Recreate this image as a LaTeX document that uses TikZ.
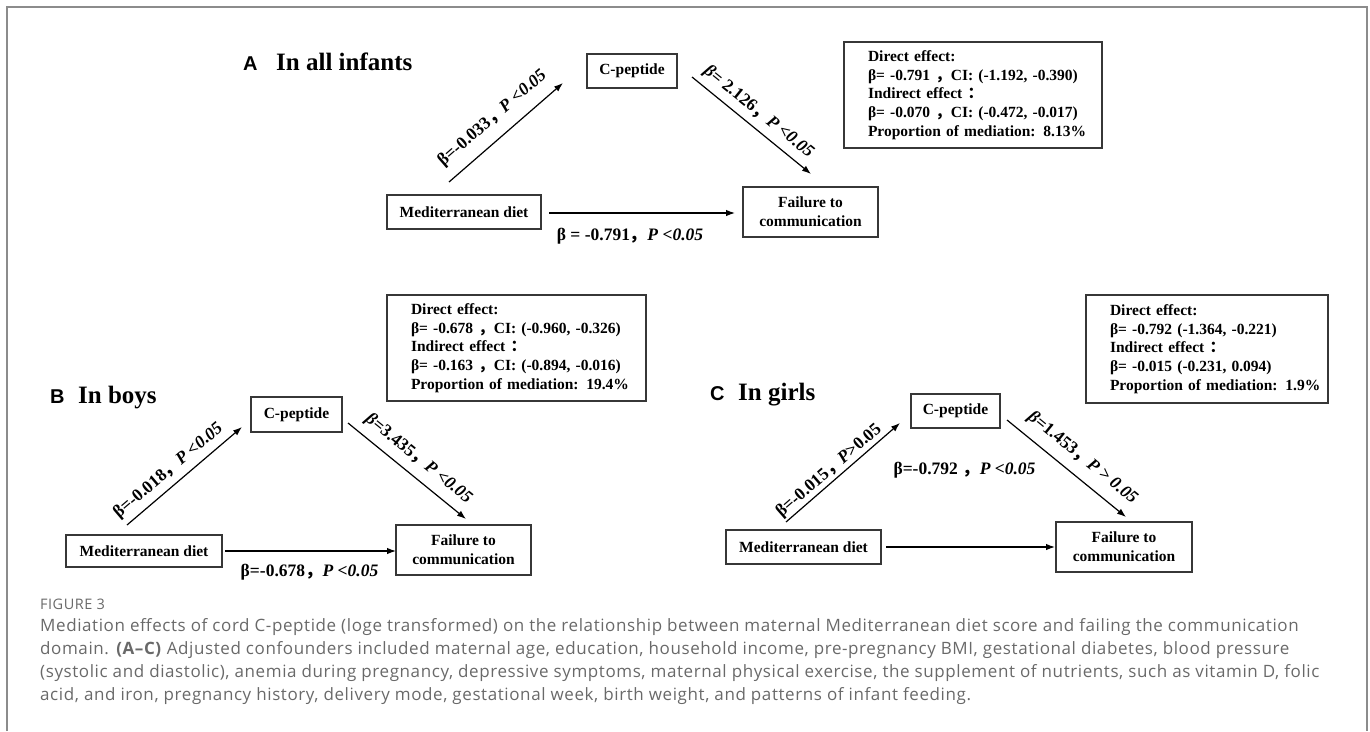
\documentclass[tikz,border=0pt]{standalone}
\usepackage{fontspec}
\setmainfont{Liberation Serif}
\newfontfamily\cjk{Noto Sans CJK SC}
\newfontfamily\capfont[LetterSpace=3.5]{Open Sans}
\newfontfamily\lettfont{Liberation Sans}
\usetikzlibrary{arrows.meta}
\definecolor{capgray}{RGB}{105,105,105}
\definecolor{framegray}{RGB}{140,140,140}
\definecolor{boxgray}{RGB}{55,55,55}
\newcommand{\fwc}{{\cjk ，}}
\newcommand{\fwcolon}{{\cjk ：}}
\begin{document}
\begin{tikzpicture}[x=1pt,y=-1pt,
 box/.style={draw=boxgray, line width=1.3pt, font=\fontsize{15.5}{19}\selectfont\bfseries, inner sep=0pt, align=center},
 info/.style={draw=boxgray, line width=1.3pt, font=\fontsize{15.5}{18.75}\selectfont\bfseries, align=left, inner xsep=24pt, inner ysep=0pt, execute at begin node={\hfuzz=200pt\hbadness=10000}},
 arr/.style={-{Latex[length=9pt,width=6.5pt]}, line width=1.2pt},
 lbl/.style={font=\fontsize{17.5}{20}\selectfont\bfseries, inner sep=0pt},
 ttl/.style={font=\fontsize{25}{30}\selectfont\bfseries, anchor=base west, inner sep=0pt},
 letter/.style={font=\fontsize{20}{24}\selectfont\lettfont\bfseries, anchor=base west, inner sep=0pt},
 captext/.style={font=\fontsize{17}{19}\selectfont\capfont, text=capgray, anchor=base west, inner sep=0pt}
]
\useasboundingbox (0,0) rectangle (1370,731);
\draw[framegray, line width=2pt] (7,731) -- (7,7) -- (1367,7) -- (1367,731);

% ---------------- Panel A ----------------
\node[letter] (letA) at (243,70) {A};
\node[ttl] (ttlA) at (276,70) {In all infants};
\node[box, minimum width=154, minimum height=34] (medA) at (464,212) {Mediterranean diet};
\node[box, minimum width=90, minimum height=34] (cpA) at (632,71) {C-peptide};
\node[box, minimum width=135, minimum height=50] (failA) at (810.5,212) {Failure to\\communication};
\node[info, minimum width=258, minimum height=106, text width=210] (infoA) at (973,95)
 {\mbox{Direct effect:}\\\mbox{β= -0.791 \fwc CI: (-1.192, -0.390)}\\\mbox{Indirect effect \fwcolon}\\\mbox{β= -0.070 \fwc CI: (-0.472, -0.017)}\\\mbox{Proportion of mediation: 8.13\%}};
\coordinate (a1s) at (449,182); \coordinate (a1e) at (563,83);
\coordinate (a2s) at (692,77);  \coordinate (a2e) at (811,174);
\coordinate (a3s) at (549,213); \coordinate (a3e) at (735,213);
\draw[arr] (a1s) -- (a1e);
\draw[arr] (a2s) -- (a2e);
\draw[arr] (a3s) -- (a3e);
\node[lbl, rotate=41] (lA1) at (492.5,118.5) {β=-0.033\fwc\textit{P <0.05}};
\node[lbl, rotate=-39] (lA2) at (758.5,112) {\textit{β}= 2.126\fwc\textit{P <0.05}};
\node[lbl] (lA3) at (630,236) {β = -0.791\fwc\textit{P <0.05}};

% ---------------- Panel B ----------------
\node[letter] (letB) at (50,403) {B};
\node[ttl] (ttlB) at (78,403) {In boys};
\node[box, minimum width=156, minimum height=32] (medB) at (144,551) {Mediterranean diet};
\node[box, minimum width=91, minimum height=35] (cpB) at (296.5,414.5) {C-peptide};
\node[box, minimum width=135, minimum height=50] (failB) at (463.5,550) {Failure to\\communication};
\node[info, minimum width=259, minimum height=106, text width=211] (infoB) at (516.5,348)
 {\mbox{Direct effect:}\\\mbox{β= -0.678 \fwc CI: (-0.960, -0.326)}\\\mbox{Indirect effect \fwcolon}\\\mbox{β= -0.163 \fwc CI: (-0.894, -0.016)}\\\mbox{Proportion of mediation: 19.4\%}};
\coordinate (b1s) at (127,525); \coordinate (b1e) at (242,427);
\coordinate (b2s) at (348,423); \coordinate (b2e) at (466,519);
\coordinate (b3s) at (225,551); \coordinate (b3e) at (396,551);
\draw[arr] (b1s) -- (b1e);
\draw[arr] (b2s) -- (b2e);
\draw[arr] (b3s) -- (b3e);
\node[lbl, rotate=40.4] (lB1) at (168.5,471) {β=-0.018\fwc\textit{P <0.05}};
\node[lbl, rotate=-39] (lB2) at (418.5,459) {\textit{β}=3.435\fwc\textit{P <0.05}};
\node[lbl] (lB3) at (309.5,572) {β=-0.678\fwc\textit{P <0.05}};

% ---------------- Panel C ----------------
\node[letter] (letC) at (710,400) {C};
\node[ttl] (ttlC) at (738,400) {In girls};
\node[box, minimum width=155, minimum height=34] (medC) at (803.5,547) {Mediterranean diet};
\node[box, minimum width=89, minimum height=34] (cpC) at (955.5,411) {C-peptide};
\node[box, minimum width=136, minimum height=50] (failC) at (1124,547) {Failure to\\communication};
\node[info, minimum width=242, minimum height=108, text width=194] (infoC) at (1207,349)
 {\mbox{Direct effect:}\\\mbox{β= -0.792 (-1.364, -0.221)}\\\mbox{Indirect effect \fwcolon}\\\mbox{β= -0.015 (-0.231, 0.094)}\\\mbox{Proportion of mediation: 1.9\%}};
\coordinate (c1s) at (786,522);  \coordinate (c1e) at (900,423);
\coordinate (c2s) at (1007,420); \coordinate (c2e) at (1126,517);
\coordinate (c3s) at (886,547);  \coordinate (c3e) at (1055,547);
\draw[arr] (c1s) -- (c1e);
\draw[arr] (c2s) -- (c2e);
\draw[arr] (c3s) -- (c3e);
\node[lbl, rotate=41] (lC1) at (829,471) {β=-0.015\fwc\textit{P}>0.05};
\node[lbl, rotate=-39.2] (lC2) at (1082.5,458) {\textit{β}=1.453\fwc\textit{P > 0.05}};
\node[lbl] (lC3) at (964.5,470) {β=-0.792 \fwc\textit{P <0.05}};

% ---------------- Caption ----------------
\node[captext, font=\fontsize{14.5}{16}\selectfont\capfont] (cap0) at (40,609) {FIGURE 3};
\node[captext] (cap1) at (40,631) {Mediation effects of cord C-peptide (loge transformed) on the relationship between maternal Mediterranean diet score and failing the communication};
\node[captext] (cap2) at (40,654) {domain. \textbf{(A–C)} Adjusted confounders included maternal age, education, household income, pre-pregnancy BMI, gestational diabetes, blood pressure};
\node[captext] (cap3) at (40,677) {(systolic and diastolic), anemia during pregnancy, depressive symptoms, maternal physical exercise, the supplement of nutrients, such as vitamin D, folic};
\node[captext] (cap4) at (40,700) {acid, and iron, pregnancy history, delivery mode, gestational week, birth weight, and patterns of infant feeding.};
\end{tikzpicture}
\end{document}
